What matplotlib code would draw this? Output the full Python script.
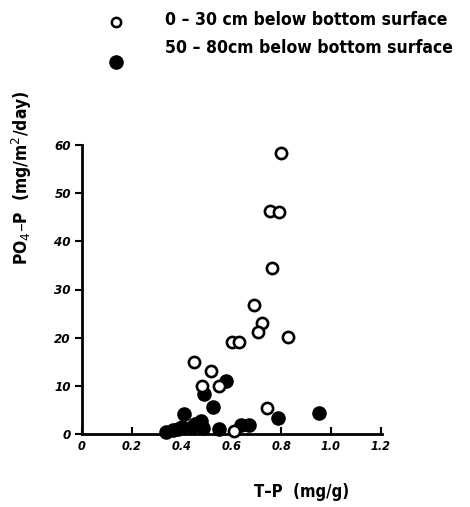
import matplotlib
matplotlib.use("Agg")
import matplotlib.pyplot as plt

# Data
open_x = [0.801, 0.756, 0.792, 0.765, 0.691, 0.721, 0.705, 0.827, 0.603, 0.629,
          0.448, 0.517, 0.481, 0.552, 0.743, 0.612]
open_y = [58.4, 46.3, 46.1, 34.4, 26.8, 23.0, 21.2, 20.2, 19.1, 19.1,
          15.0, 13.1, 10.0, 10.0, 5.3, 0.6]
fill_x = [0.579, 0.489, 0.525, 0.408, 0.952, 0.789, 0.479, 0.452, 0.403, 0.639,
          0.669, 0.549, 0.485, 0.365, 0.339, 0.440, 0.385]
fill_y = [11.1, 8.3, 5.7, 4.2, 4.4, 3.4, 2.6, 2.1, 1.5, 1.9,
          1.9, 1.0, 1.2, 0.8, 0.5, 1.4, 1.0]
xticks = [0, 0.2, 0.4, 0.6, 0.8, 1.0, 1.2]
xticklabels = ["0", "0.2", "0.4", "0.6", "0.8", "1.0", "1.2"]
yticks = [0, 10, 20, 30, 40, 50, 60]
legend_labels = ["0 \u2013 30 cm below bottom surface", "50 \u2013 80cm below bottom surface"]

W, H = 470, 507
fig = plt.figure(figsize=(W / 100, H / 100), dpi=100)
ax = fig.add_axes([82 / W, 1 - 434 / H, 300 / W, (434 - 145) / H])

font = dict(family="DejaVu Sans", weight="bold", stretch="condensed")

ax.scatter(fill_x, fill_y, s=90, facecolor="black", edgecolor="black", zorder=3, clip_on=False)
ax.scatter(open_x, open_y, s=65, facecolor="white", edgecolor="black", linewidths=1.9, zorder=4, clip_on=False)

ax.set_xlim(0, 1.205)
ax.set_ylim(0, 60)
for s in ["top", "right"]:
    ax.spines[s].set_visible(False)
for s in ["left", "bottom"]:
    ax.spines[s].set_linewidth(2)

ax.set_xticks(xticks)
ax.set_xticklabels(xticklabels, fontsize=9, style="italic", **font)
ax.set_yticks(yticks)
ax.set_yticklabels([str(v) for v in yticks], fontsize=9.5, style="italic", **font)
ax.tick_params(axis="x", direction="in", length=5, width=1.5, pad=4)
ax.tick_params(axis="y", direction="out", length=5, width=1.5, pad=3)

fig.text(22 / W, 1 - 178 / H, "PO$_4$\u2013P  (mg/m$^2$/day)", rotation=90,
         ha="center", va="center", fontsize=12.5, **font)
fig.text(302 / W, 1 - 492 / H, "T\u2013P  (mg/g)", ha="center", va="center",
         fontsize=12, **font)

# Legend drawn at top
fig.text(165 / W, 1 - 20 / H, legend_labels[0], ha="left", va="center", fontsize=12.6, **font)
fig.text(165 / W, 1 - 48 / H, legend_labels[1], ha="left", va="center", fontsize=12.6, **font)
lax = fig.add_axes([0, 0, 1, 1], facecolor="none")
lax.set_xlim(0, W)
lax.set_ylim(H, 0)
lax.axis("off")
lax.scatter([116], [22], s=45, facecolor="white", edgecolor="black", linewidths=1.8)
lax.scatter([116], [62], s=90, facecolor="black", edgecolor="black")

fig.savefig("out.png", dpi=100)
